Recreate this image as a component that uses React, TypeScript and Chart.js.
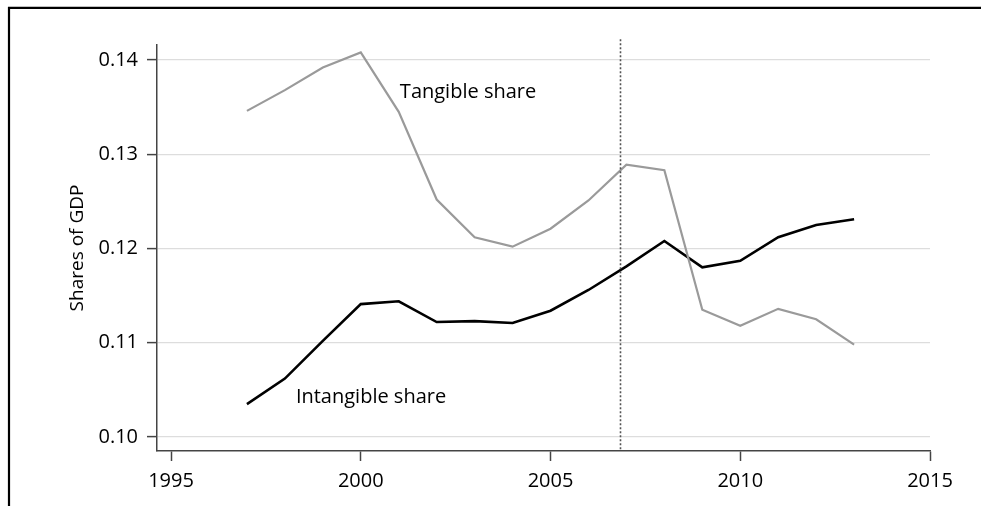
import React, { useEffect, useRef } from "react";
import { Chart, registerables } from "chart.js";

Chart.register(...registerables);

const years = [1997, 1998, 1999, 2000, 2001, 2002, 2003, 2004, 2005, 2006, 2007, 2008, 2009, 2010, 2011, 2012, 2013];
const tangibleShare = [0.1346, 0.1368, 0.1392, 0.1408, 0.1345, 0.1252, 0.1212, 0.1202, 0.1221, 0.1251, 0.1289, 0.1283, 0.1135, 0.1118, 0.1136, 0.1125, 0.1098];
const intangibleShare = [0.1035, 0.1062, 0.1102, 0.1141, 0.1144, 0.1122, 0.1123, 0.1121, 0.1134, 0.1156, 0.1181, 0.1208, 0.118, 0.1187, 0.1212, 0.1225, 0.1231];
const xTicks = [1995, 2000, 2005, 2010, 2015];
const yTicks = [0.1, 0.11, 0.12, 0.13, 0.14];
const markerYear = 2006.82;
const seriesLabels = [
  { text: "Tangible share", x: 2001.03, y: 0.13658 },
  { text: "Intangible share", x: 1998.29, y: 0.10417 },
];

const FONT = "'Open Sans', sans-serif";

export default function App() {
  const ref = useRef<HTMLCanvasElement | null>(null);
  useEffect(() => {
    const canvas = ref.current!;
    const framePlugin = {
      id: "frame",
      beforeDraw(chart: any) {
        const ctx = chart.ctx;
        ctx.save();
        ctx.fillStyle = "#ffffff";
        ctx.fillRect(0, 0, chart.width, chart.height);
        ctx.strokeStyle = "#000";
        ctx.lineWidth = 2.2;
        ctx.beginPath();
        ctx.moveTo(9, 510);
        ctx.lineTo(9, 7.8);
        ctx.lineTo(990, 7.8);
        ctx.stroke();
        ctx.restore();
      },
      afterDatasetsDraw(chart: any) {
        const ctx = chart.ctx;
        const xs = chart.scales.x;
        const ys = chart.scales.y;
        ctx.save();
        const mx = Math.round(xs.getPixelForValue(markerYear)) + 0.5;
        ctx.strokeStyle = "#555";
        ctx.lineWidth = 1.6;
        ctx.setLineDash([2, 2]);
        ctx.beginPath();
        ctx.moveTo(mx, ys.getPixelForValue(0.1422));
        ctx.lineTo(mx, ys.bottom);
        ctx.stroke();
        ctx.setLineDash([]);
        ctx.fillStyle = "#000";
        ctx.font = `20px ${FONT}`;
        ctx.textAlign = "left";
        ctx.textBaseline = "middle";
        for (const l of seriesLabels) {
          ctx.fillText(l.text, xs.getPixelForValue(l.x), ys.getPixelForValue(l.y));
        }
        ctx.restore();
      },
    };
    const chart = new Chart(canvas, {
      type: "line",
      data: {
        datasets: [
          {
            label: "Tangible share",
            data: years.map((y, i) => ({ x: y, y: tangibleShare[i] })),
            borderColor: "#9a9a9a",
            borderWidth: 2.2,
            pointRadius: 0,
            tension: 0,
          },
          {
            label: "Intangible share",
            data: years.map((y, i) => ({ x: y, y: intangibleShare[i] })),
            borderColor: "#000000",
            borderWidth: 2.6,
            pointRadius: 0,
            tension: 0,
          },
        ],
      },
      options: {
        animation: false,
        responsive: false,
        devicePixelRatio: 1,
        layout: { padding: { left: 0, top: 45, right: 51, bottom: 0 } },
        plugins: { legend: { display: false }, tooltip: { enabled: false }, title: { display: false } },
        scales: {
          x: {
            type: "linear",
            min: 1994.63,
            max: 2015,
            afterBuildTicks: (s: any) => {
              s.ticks = xTicks.map((v) => ({ value: v }));
            },
            afterFit: (s: any) => {
              s.height = 55;
            },
            ticks: {
              color: "#000",
              font: { family: FONT, size: 20 },
              padding: 8,
              maxRotation: 0,
              callback: (v: any) => String(v),
            },
            grid: {
              drawOnChartArea: false,
              drawTicks: true,
              tickLength: 10,
              tickColor: "#444",
              tickWidth: 1.5,
            },
            border: { display: true, color: "#444", width: 1.5 },
          },
          y: {
            type: "linear",
            min: 0.09852,
            max: 0.14159,
            afterBuildTicks: (s: any) => {
              s.ticks = yTicks.map((v) => ({ value: v }));
            },
            afterFit: (s: any) => {
              s.width = 157;
            },
            ticks: {
              color: "#000",
              font: { family: FONT, size: 20 },
              padding: 9,
              callback: (v: any) => Number(v).toFixed(2),
            },
            grid: {
              color: "#dddddd",
              lineWidth: 1.2,
              drawTicks: true,
              tickLength: 10,
              tickColor: "#444",
              tickWidth: 1.5,
            },
            border: { display: true, color: "#444", width: 1.5 },
            title: {
              display: true,
              text: "Shares of GDP",
              color: "#000",
              font: { family: FONT, size: 19 },
              padding: { top: 66, bottom: 0 },
            },
          },
        },
      },
      plugins: [framePlugin],
    });
    return () => chart.destroy();
  }, []);
  return (
    <div style={{ position: "fixed", left: 0, top: 0, width: 981, height: 506, background: "#fff" }}>
      <canvas ref={ref} width={981} height={506} style={{ display: "block" }} />
    </div>
  );
}
